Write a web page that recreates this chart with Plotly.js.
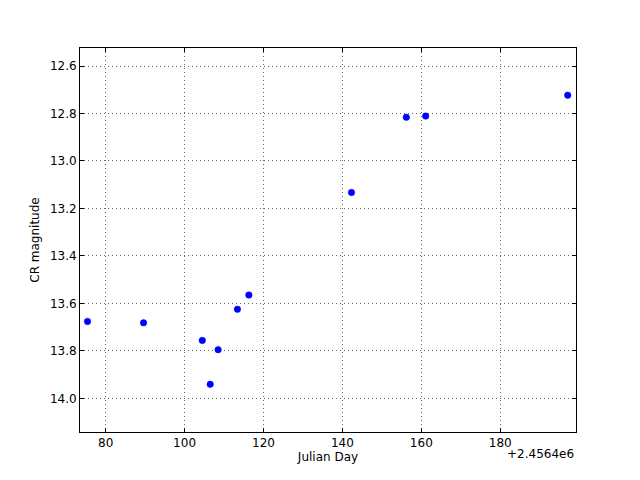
<!DOCTYPE html>
<html>
<head>
<meta charset="utf-8">
<script src="https://cdn.plot.ly/plotly-3.0.1.min.js"></script>
<style>html,body{margin:0;padding:0;background:#fff;}#chart{width:640px;height:480px;}</style>
</head>
<body>
<div id="chart"></div>
<script>
const jdOffset = 2456400;
const julianDay = [2456475.4, 2456489.6, 2456504.5, 2456506.5, 2456508.5, 2456513.4, 2456516.3, 2456542.3, 2456556.2, 2456561.1, 2456597.1];
const crMagnitude = [13.676, 13.682, 13.756, 13.941, 13.795, 13.625, 13.565, 13.133, 12.816, 12.811, 12.723];
const xTickVals = [80, 100, 120, 140, 160, 180];
const yTickVals = [12.6, 12.8, 13.0, 13.2, 13.4, 13.6, 13.8, 14.0];

const xs = julianDay.map(v => +(v - jdOffset).toFixed(3));

const font = {family: 'DejaVu Sans', size: 12, color: '#000'};
const axisCommon = {
  showline: true, linecolor: '#000', linewidth: 1, mirror: 'ticks',
  ticks: 'inside', ticklen: 4, tickcolor: '#000', tickwidth: 1,
  showgrid: true, gridcolor: '#666', gridwidth: 1, griddash: '1px,3px',
  zeroline: false, tickfont: font
};

Plotly.newPlot('chart', [{
  x: xs, y: crMagnitude, type: 'scatter', mode: 'markers',
  marker: {color: '#0000ff', size: 6.5, line: {color: '#0000ff', width: 0.5}},
  hoverinfo: 'skip'
}], {
  width: 640, height: 480,
  margin: {l: 80, r: 64, t: 48, b: 48},
  paper_bgcolor: '#fff', plot_bgcolor: '#fff',
  showlegend: false,
  font: font,
  xaxis: Object.assign({}, axisCommon, {
    range: [73.5, 199.2], tickvals: xTickVals, ticktext: xTickVals.map(String),
    title: {text: 'Julian Day', font: font, standoff: 2}
  }),
  yaxis: Object.assign({}, axisCommon, {
    range: [14.142, 12.524], tickvals: yTickVals, ticktext: yTickVals.map(v => v.toFixed(1)),
    title: {text: 'CR magnitude', font: font, standoff: 7}
  }),
  annotations: [{
    text: '+2.4564e6', xref: 'paper', yref: 'paper', x: 1, y: 0,
    xanchor: 'right', yanchor: 'top', yshift: -13, showarrow: false, font: font
  }]
}, {staticPlot: true});
</script>
</body>
</html>
